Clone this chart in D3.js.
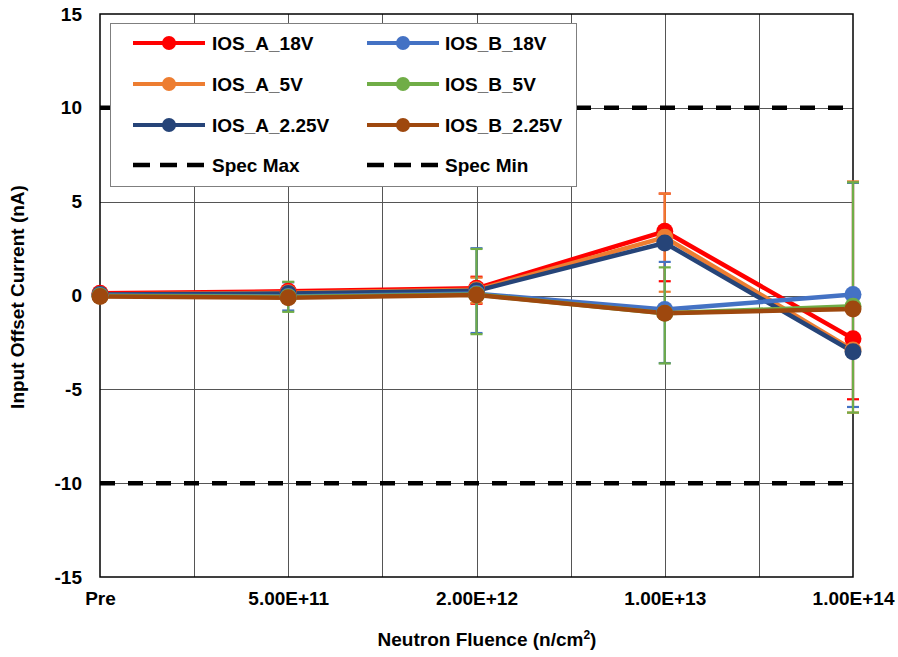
<!DOCTYPE html>
<html>
<head>
<meta charset="utf-8">
<script src="https://cdn.jsdelivr.net/npm/d3@7/dist/d3.min.js"></script>
<style>
  html, body { margin: 0; padding: 0; background: #fff; }
  text { font-family: Arial, "Liberation Sans", sans-serif; font-weight: bold; fill: #000; }
</style>
</head>
<body>
<svg id="chart" width="898" height="657"></svg>
<script>
// ---- Data ----
const categories = ["Pre", "5.00E+11", "2.00E+12", "1.00E+13", "1.00E+14"];
const seriesNames = ["IOS_A_18V", "IOS_A_5V", "IOS_A_2.25V", "IOS_B_18V", "IOS_B_5V", "IOS_B_2.25V"];
const seriesColors = ["#FF0000", "#ED7D31", "#264478", "#4472C4", "#70AD47", "#9E480E"];

const IOS_A_18V   = [0.12, 0.22, 0.38, 3.42, -2.30];
const IOS_A_5V    = [0.05, 0.15, 0.30, 3.10, -2.90];
const IOS_A_2_25V = [0.05, 0.10, 0.25, 2.80, -3.00];
const IOS_B_18V   = [0.00, -0.05, 0.10, -0.75, 0.05];
const IOS_B_5V    = [-0.02, -0.08, 0.05, -0.95, -0.57];
const IOS_B_2_25V = [-0.05, -0.12, 0.03, -0.95, -0.72];
const seriesValues = [IOS_A_18V, IOS_A_5V, IOS_A_2_25V, IOS_B_18V, IOS_B_5V, IOS_B_2_25V];

// error bar ends (low / high), null = no visible bar
const errLow_A_18V   = [null, null, -0.44, 0.76, -5.53];
const errHigh_A_18V  = [null, null, 1.00, 5.43, 6.00];
const errLow_A_5V    = [null, null, -0.40, 0.20, -6.24];
const errHigh_A_5V   = [null, null, 0.95, 5.43, 6.08];
const errLow_A_2_25V = [null, null, null, null, null];
const errHigh_A_2_25V= [null, null, null, null, null];
const errLow_B_18V   = [null, -0.80, -2.00, -3.60, -5.94];
const errHigh_B_18V  = [null, 0.70, 2.52, 1.79, 6.00];
const errLow_B_5V    = [null, -0.87, -2.06, -3.62, -6.24];
const errHigh_B_5V   = [null, 0.73, 2.48, 1.50, 6.03];
const errLow_B_2_25V = [null, null, null, null, null];
const errHigh_B_2_25V= [null, null, null, null, null];
const errLows  = [errLow_A_18V, errLow_A_5V, errLow_A_2_25V, errLow_B_18V, errLow_B_5V, errLow_B_2_25V];
const errHighs = [errHigh_A_18V, errHigh_A_5V, errHigh_A_2_25V, errHigh_B_18V, errHigh_B_5V, errHigh_B_2_25V];

const specMax = 10;
const specMin = -10;
const yTicks = [-15, -10, -5, 0, 5, 10, 15];
const yTitle = "Input Offset Current (nA)";

// ---- Layout ----
const svg = d3.select("#chart");
const L = 100, R = 853, T = 14, B = 577;
const x = d3.scaleLinear().domain([0, categories.length - 1]).range([L, R]);
const y = d3.scaleLinear().domain([-15, 15]).range([B, T]);

// gridlines
const grid = svg.append("g");
const vGrid = d3.range(0.5, categories.length - 1, 0.5);
grid.selectAll("line.v").data(vGrid).enter().append("line")
  .attr("x1", d => Math.round(x(d)) + 0.5).attr("x2", d => Math.round(x(d)) + 0.5)
  .attr("y1", T).attr("y2", B)
  .attr("stroke", "#555").attr("stroke-width", 1);
grid.selectAll("line.h").data(yTicks.slice(1, -1)).enter().append("line")
  .attr("x1", L).attr("x2", R)
  .attr("y1", d => Math.round(y(d)) + 0.5).attr("y2", d => Math.round(y(d)) + 0.5)
  .attr("stroke", "#555").attr("stroke-width", 1);

// plot border
svg.append("rect").attr("x", L).attr("y", T).attr("width", R - L).attr("height", B - T)
  .attr("fill", "none").attr("stroke", "#000").attr("stroke-width", 1.5);

// spec lines
[specMax, specMin].forEach(v => {
  svg.append("line").attr("x1", L).attr("x2", R).attr("y1", y(v)).attr("y2", y(v))
    .attr("stroke", "#000").attr("stroke-width", 4.5).attr("stroke-dasharray", "15,13");
});

// axes
const yAxis = svg.append("g").attr("transform", `translate(${L},0)`)
  .call(d3.axisLeft(y).tickValues(yTicks).tickSize(0).tickPadding(18).tickFormat(d => String(d)));
yAxis.select(".domain").remove();
yAxis.selectAll("text").style("font-size", "19px").style("font-family", "Arial, 'Liberation Sans', sans-serif").style("font-weight", "bold");

const xAxis = svg.append("g").attr("transform", `translate(0,${B})`)
  .call(d3.axisBottom(x).tickValues(d3.range(categories.length)).tickSize(0).tickPadding(15).tickFormat(i => categories[i]));
xAxis.select(".domain").remove();
xAxis.selectAll("text").style("font-size", "19px").style("font-family", "Arial, 'Liberation Sans', sans-serif").style("font-weight", "bold");

// error bars
const eb = svg.append("g");
seriesValues.forEach((vals, s) => {
  vals.forEach((v, i) => {
    const lo = errLows[s][i], hi = errHighs[s][i];
    if (lo === null || hi === null) return;
    const cx = x(i);
    eb.append("line").attr("x1", cx).attr("x2", cx).attr("y1", y(lo)).attr("y2", y(hi))
      .attr("stroke", seriesColors[s]).attr("stroke-width", 2.2);
    [lo, hi].forEach(e => {
      eb.append("line").attr("x1", cx - 6).attr("x2", cx + 6).attr("y1", y(e)).attr("y2", y(e))
        .attr("stroke", seriesColors[s]).attr("stroke-width", 2.2);
    });
  });
});

// lines
const lineGen = d3.line().x((d, i) => x(i)).y(d => y(d));
seriesValues.forEach((vals, s) => {
  svg.append("path").datum(vals).attr("d", lineGen)
    .attr("fill", "none").attr("stroke", seriesColors[s]).attr("stroke-width", 4.5)
    .attr("stroke-linejoin", "round");
});
// markers
seriesValues.forEach((vals, s) => {
  svg.append("g").selectAll("circle").data(vals).enter().append("circle")
    .attr("cx", (d, i) => x(i)).attr("cy", d => y(d)).attr("r", 8.5)
    .attr("fill", seriesColors[s]);
});

// legend
const lg = svg.append("g");
lg.append("rect").attr("x", 110.5).attr("y", 23.5).attr("width", 466).attr("height", 163)
  .attr("fill", "#fff").attr("stroke", "#7f7f7f").attr("stroke-width", 1);
const rowsY = [43, 84, 125, 165];
const colX = [[133, 205, 212], [367, 439, 445]];
const legendItems = [
  {name: seriesNames[0], color: seriesColors[0], col: 0, row: 0},
  {name: seriesNames[3], color: seriesColors[3], col: 1, row: 0},
  {name: seriesNames[1], color: seriesColors[1], col: 0, row: 1},
  {name: seriesNames[4], color: seriesColors[4], col: 1, row: 1},
  {name: seriesNames[2], color: seriesColors[2], col: 0, row: 2},
  {name: seriesNames[5], color: seriesColors[5], col: 1, row: 2},
  {name: "Spec Max", color: "#000", col: 0, row: 3, dash: true},
  {name: "Spec Min", color: "#000", col: 1, row: 3, dash: true}
];
legendItems.forEach(it => {
  const [x1, x2, tx] = colX[it.col];
  const yy = rowsY[it.row];
  const ln = lg.append("line").attr("x1", x1).attr("x2", x2).attr("y1", yy).attr("y2", yy)
    .attr("stroke", it.color).attr("stroke-width", it.dash ? 4.5 : 4);
  if (it.dash) ln.attr("stroke-dasharray", "17,10");
  else lg.append("circle").attr("cx", (x1 + x2) / 2).attr("cy", yy).attr("r", 7).attr("fill", it.color);
  lg.append("text").attr("x", tx).attr("y", yy).attr("dy", "0.36em")
    .style("font-size", "19px").text(it.name);
});

// axis titles
svg.append("text").attr("transform", `translate(24,297) rotate(-90)`)
  .attr("text-anchor", "middle").style("font-size", "19px").text(yTitle);
const xt = svg.append("text").attr("x", 487).attr("y", 646).attr("text-anchor", "middle")
  .style("font-size", "19px");
xt.append("tspan").text("Neutron Fluence (n/cm");
xt.append("tspan").attr("dy", -7).style("font-size", "12px").text("2");
xt.append("tspan").attr("dy", 7).text(")");
</script>
</body>
</html>
